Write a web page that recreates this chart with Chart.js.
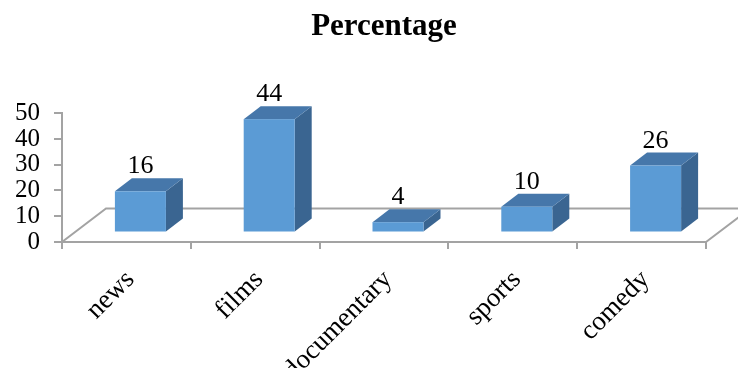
<!DOCTYPE html>
<html>
<head>
<meta charset="utf-8">
<script src="https://cdn.jsdelivr.net/npm/chart.js@4.4.1/dist/chart.umd.min.js"></script>
<style>
  html, body { margin: 0; padding: 0; background: #fff; }
  canvas { display: block; }
</style>
</head>
<body>
<canvas id="chart" width="738" height="368"></canvas>
<script>
// data
const categories = ["news", "films", "documentary", "sports", "comedy"];
const percentages = [16, 44, 4, 10, 26];
const yTicks = [0, 10, 20, 30, 40, 50];

const serif = "'Liberation Serif', 'Times New Roman', serif";
const axisGray = "#A3A3A3";

// 3D look: floor depth and bar depth (pixels)
const FLOOR_DX = 44, FLOOR_DY = 33.5;
const BAR_SHIFT_X = 14, BAR_SHIFT_Y = 9.5;
const BAR_DX = 17, BAR_DY = 13;

const floorPlugin = {
  id: "floor",
  beforeDatasetsDraw(chart) {
    const { ctx, chartArea, scales } = chart;
    const y0 = scales.y.getPixelForValue(0);
    const l = chartArea.left, r = chartArea.right;
    ctx.save();
    ctx.strokeStyle = axisGray;
    ctx.lineWidth = 2;
    ctx.beginPath();
    ctx.moveTo(l, y0);
    ctx.lineTo(l + FLOOR_DX, y0 - FLOOR_DY);
    ctx.lineTo(r + FLOOR_DX, y0 - FLOOR_DY);
    ctx.moveTo(r, y0);
    ctx.lineTo(r + FLOOR_DX, y0 - FLOOR_DY);
    ctx.stroke();
    ctx.restore();
  }
};

const boxPlugin = {
  id: "boxes",
  afterDatasetsDraw(chart) {
    const { ctx } = chart;
    const meta = chart.getDatasetMeta(0);
    ctx.save();
    meta.data.forEach((bar, i) => {
      const left = bar.x - bar.width / 2 + BAR_SHIFT_X;
      const right = bar.x + bar.width / 2 + BAR_SHIFT_X;
      const top = bar.y - BAR_SHIFT_Y;
      const bottom = bar.base - BAR_SHIFT_Y;

      // side
      ctx.fillStyle = "#3A6591";
      ctx.beginPath();
      ctx.moveTo(right, top);
      ctx.lineTo(right + BAR_DX, top - BAR_DY);
      ctx.lineTo(right + BAR_DX, bottom - BAR_DY);
      ctx.lineTo(right, bottom);
      ctx.closePath();
      ctx.fill();

      // top
      ctx.fillStyle = "#4677AA";
      ctx.beginPath();
      ctx.moveTo(left, top);
      ctx.lineTo(right, top);
      ctx.lineTo(right + BAR_DX, top - BAR_DY);
      ctx.lineTo(left + BAR_DX, top - BAR_DY);
      ctx.closePath();
      ctx.fill();

      // front
      ctx.fillStyle = "#5B9BD5";
      ctx.fillRect(left, top, right - left, bottom - top);

      // value label
      ctx.fillStyle = "#000";
      ctx.font = "26px " + serif;
      ctx.textAlign = "center";
      ctx.textBaseline = "alphabetic";
      ctx.fillText(String(percentages[i]), (left + right) / 2, top - 18);
    });
    ctx.restore();
  }
};

new Chart(document.getElementById("chart"), {
  type: "bar",
  data: {
    labels: categories,
    datasets: [{
      data: percentages,
      backgroundColor: "rgba(0,0,0,0)",
      borderWidth: 0,
      barPercentage: 1,
      categoryPercentage: 0.396
    }]
  },
  options: {
    responsive: false,
    animation: false,
    devicePixelRatio: 1,
    layout: { padding: { left: 0, right: 32, top: 0, bottom: 0 } },
    plugins: {
      legend: { display: false },
      tooltip: { enabled: false },
      title: {
        display: true,
        fullSize: false,
        text: "Percentage",
        color: "#000",
        font: { family: serif, size: 31, weight: "bold" },
        padding: { top: 8, bottom: 68 }
      }
    },
    scales: {
      x: {
        grid: { drawOnChartArea: false, drawTicks: true, tickLength: 7, color: axisGray, lineWidth: 2, offset: true },
        border: { color: axisGray, width: 2 },
        ticks: { color: "#000", font: { family: serif, size: 27 }, minRotation: 45, maxRotation: 45, padding: 15, labelOffset: 4, autoSkip: false },
        afterFit(scale) { scale.height = 126; }
      },
      y: {
        min: yTicks[0],
        max: yTicks[yTicks.length - 1],
        afterBuildTicks(scale) { scale.ticks = yTicks.map(v => ({ value: v })); },
        grid: { drawOnChartArea: false, drawTicks: true, tickLength: 8, color: axisGray, lineWidth: 2 },
        border: { color: axisGray, width: 2 },
        ticks: { color: "#000", font: { family: serif, size: 25 }, padding: 14, autoSkip: false },
        afterFit(scale) { scale.width = 62; }
      }
    }
  },
  plugins: [floorPlugin, boxPlugin]
});
</script>
</body>
</html>
